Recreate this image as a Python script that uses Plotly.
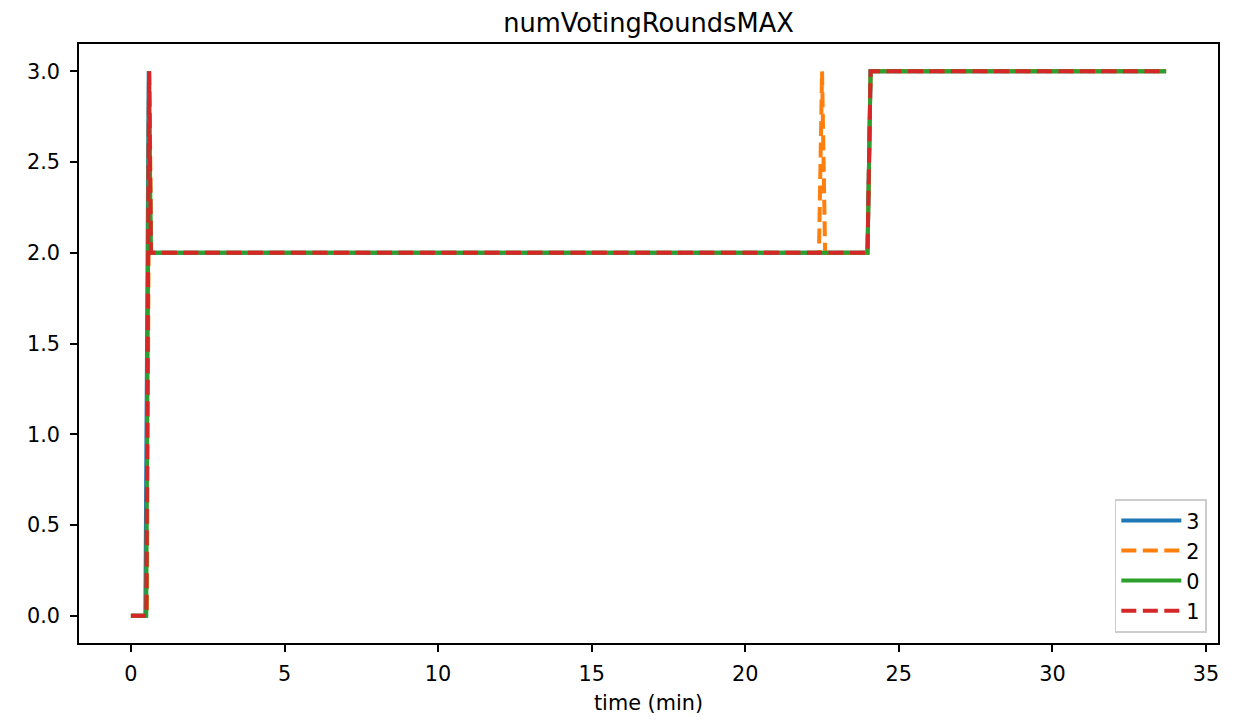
import plotly.graph_objects as go

# ---- data ----
series_names = ["3", "2", "0", "1"]
colors = ["#1f77b4", "#ff7f0e", "#2ca02c", "#d62728"]
dashes = ["solid", "15px,6.5px", "solid", "15px,6.5px"]

time_3 = [0.0, 0.47, 0.58, 0.64, 23.98, 24.08, 33.7]
vals_3 = [0, 0, 3, 2, 2, 3, 3]

time_2 = [0.0, 0.52, 0.60, 0.66, 22.40, 22.50, 22.60, 23.98, 24.08, 33.7]
vals_2 = [0, 0, 3, 2, 2, 3, 2, 2, 3, 3]

time_0 = [0.0, 0.50, 0.59, 0.65, 23.98, 24.08, 33.7]
vals_0 = [0, 0, 3, 2, 2, 3, 3]

time_1 = [0.0, 0.50, 0.59, 0.65, 23.98, 24.08, 33.7]
vals_1 = [0, 0, 3, 2, 2, 3, 3]

times = [time_3, time_2, time_0, time_1]
values = [vals_3, vals_2, vals_0, vals_1]

x_ticks = [0, 5, 10, 15, 20, 25, 30, 35]
y_ticks = [0.0, 0.5, 1.0, 1.5, 2.0, 2.5, 3.0]

FONT = "DejaVu Sans"

fig = go.Figure()
for name, t, v, c, d in zip(series_names, times, values, colors, dashes):
    fig.add_trace(go.Scatter(
        x=t, y=v, mode="lines", name=name, legendgroup=name,
        line=dict(color=c, width=4, dash=d),
    ))

axis_common = dict(
    showgrid=False, zeroline=False, showline=True, linecolor="black",
    linewidth=1.7, mirror=True, ticks="outside", ticklen=7, tickwidth=1.7,
    tickcolor="black", tickfont=dict(family=FONT, size=20.8, color="black"),
)

fig.update_layout(
    width=1245, height=720,
    paper_bgcolor="white", plot_bgcolor="white",
    margin=dict(l=71, r=35, t=36, b=85),
    font=dict(family=FONT, color="black"),
    title=dict(text="numVotingRoundsMAX", x=0.5, xanchor="center", xref="paper",
               y=1 - 15.5 / 720, yanchor="middle", yref="container",
               font=dict(family=FONT, size=25.7, color="black")),
    xaxis=dict(range=[-1.69, 35.39], tickvals=x_ticks,
               ticktext=[str(v) for v in x_ticks], ticklabelstandoff=4,
               title=dict(text="time (min)", standoff=11,
                          font=dict(family=FONT, size=20.8, color="black")),
               **axis_common),
    yaxis=dict(range=[-0.15, 3.15], tickvals=y_ticks, ticklabelstandoff=6,
               ticktext=[f"{v:.1f}" for v in y_ticks], **axis_common),
    legend=dict(x=0.99, y=0.017, xanchor="right", yanchor="bottom",
                bgcolor="rgba(255,255,255,0.8)", bordercolor="#cccccc",
                borderwidth=1.7, font=dict(family=FONT, size=20.8, color="black"),
                traceorder="grouped", tracegroupgap=0, itemwidth=60),
    showlegend=True,
)

fig.write_html("out.html")
